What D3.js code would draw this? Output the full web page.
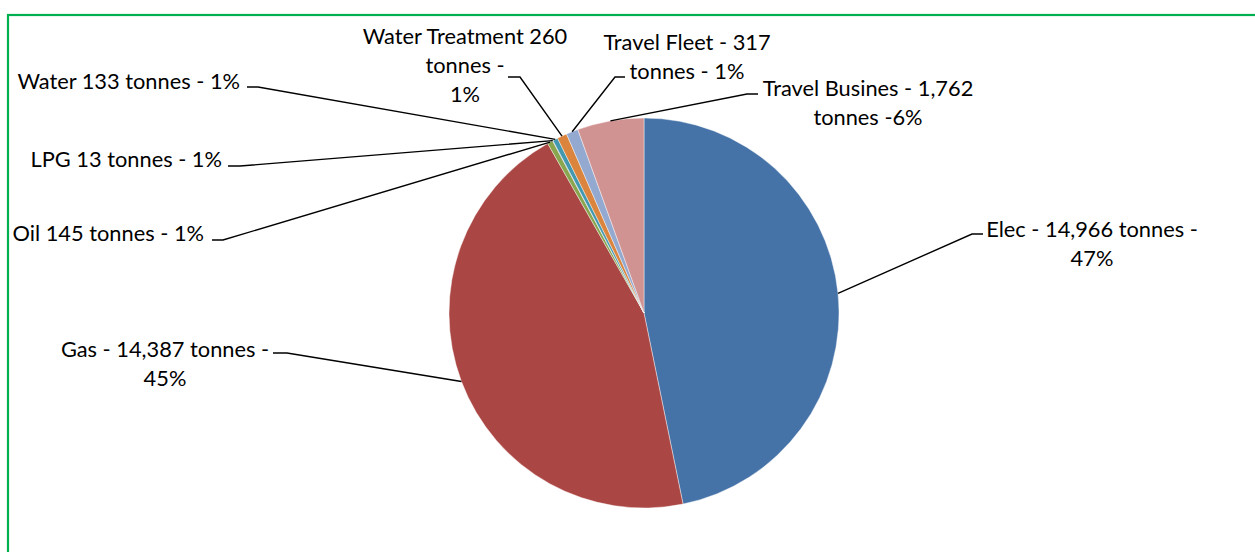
<!DOCTYPE html>
<html><head><meta charset="utf-8">
<script src="https://cdn.jsdelivr.net/npm/d3@7"></script>
<style>html,body{margin:0;padding:0;background:#fff;overflow:hidden}</style>
</head><body>
<svg id="chart" width="1255" height="552"></svg>
<script>
// ---- data ----
const categories = ["Elec","Gas","Oil","LPG","Water","Water Treatment","Travel Fleet","Travel Busines"];
const values = [14966, 14387, 145, 13, 133, 260, 317, 1762];
const labelLines = [
  ["Elec - 14,966 tonnes -","47%"],
  ["Gas - 14,387 tonnes -","45%"],
  ["Oil 145 tonnes - 1%"],
  ["LPG 13 tonnes - 1%"],
  ["Water 133 tonnes - 1%"],
  ["Water Treatment 260","tonnes -","1%"],
  ["Travel Fleet - 317","tonnes - 1%"],
  ["Travel Busines - 1,762","tonnes -6%"]
];
const colors = ["#4572A7","#AA4643","#89A54E","#71588F","#4198AF","#DB843D","#93A9CF","#D19392"];

// ---- layout (label placement: elbow point, tail end, label x, first line center y) ----
const layout = [
  {elbow:[972,234], tail:[983,234], lx:1092, ly:228, anchor:"middle"},
  {elbow:[287,353], tail:[273,353], lx:165, ly:348, anchor:"middle"},
  {elbow:[223,240], tail:[212,240], lx:204, ly:232, anchor:"end"},
  {elbow:[240,166], tail:[228,166], lx:222, ly:158, anchor:"end"},
  {elbow:[258,87],  tail:[247,87],  lx:240, ly:80,  anchor:"end"},
  {elbow:[520,77],  tail:[508,77],  lx:465, ly:35,  anchor:"middle"},
  {elbow:[615,77],  tail:[625,77],  lx:687, ly:41,  anchor:"middle"},
  {elbow:[747,94],  tail:[758,94],  lx:868, ly:87,  anchor:"middle"}
];

const svg = d3.select("#chart");
const cx = 644, cy = 313, R = 195, lineH = 29;

svg.append("rect").attr("x",8).attr("y",15).attr("width",1300).attr("height",600)
  .attr("fill","none").attr("stroke","#00B050").attr("stroke-width",2.2);

const pie = d3.pie().sort(null).value(d => d)(values);
const arc = d3.arc().innerRadius(0).outerRadius(R);
const g = svg.append("g").attr("transform",`translate(${cx},${cy})`);
g.selectAll("path").data(pie).join("path")
  .attr("d", arc).attr("fill",(d,i)=>colors[i])
  .attr("stroke","#fff").attr("stroke-width",0.6).attr("stroke-opacity",0.7);

// leader lines
const edge = d3.arc().innerRadius(R).outerRadius(R);
svg.append("g").selectAll("polyline").data(pie).join("polyline")
  .attr("points",(d,i)=>{
    const c = edge.centroid(d);
    const L = layout[i];
    return [[cx+c[0],cy+c[1]], L.elbow, L.tail].map(p=>p.join(",")).join(" ");
  })
  .attr("fill","none").attr("stroke","#000").attr("stroke-width",1.4);

// labels
const lab = svg.append("g").attr("font-family","Lato, 'Open Sans', sans-serif")
  .attr("font-size",21.8).attr("fill","#000");
labelLines.forEach((lines,i)=>{
  const L = layout[i];
  const t = lab.append("text").attr("text-anchor",L.anchor);
  lines.forEach((s,k)=>{
    t.append("tspan").attr("x",L.lx).attr("y",L.ly+k*lineH)
      .attr("dominant-baseline","central").text(s);
  });
});
</script>
</body></html>
